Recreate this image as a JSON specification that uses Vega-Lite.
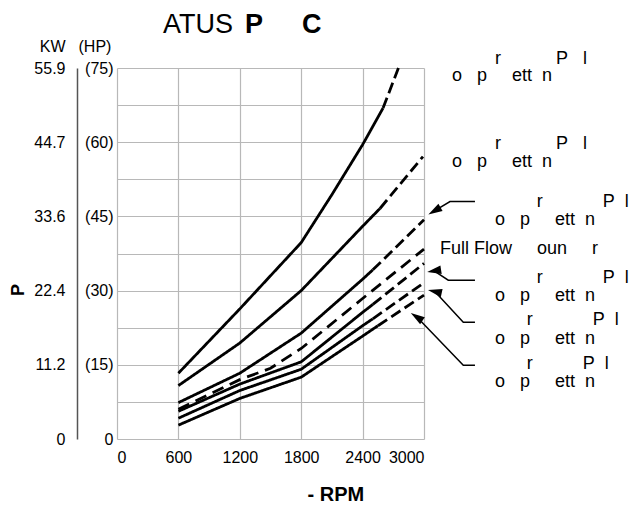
{
  "$schema": "https://vega.github.io/schema/vega-lite/v6.json",
  "width": 307,
  "height": 371,
  "autosize": {"type": "none"},
  "padding": {"left": 117, "top": 68, "right": 206, "bottom": 67},
  "background": "white",
  "config": {
    "font": "Liberation Sans",
    "view": {"stroke": null},
    "axis": {"labelColor": "#000", "titleColor": "#000", "labelFontSize": 16, "gridColor": "#b8b8b8", "gridWidth": 1.2}
  },
  "datasets": {
    "curves": [
      {"curve": "A", "seg": "solid", "rpm": 600, "hp": 13.3},
      {"curve": "A", "seg": "solid", "rpm": 1200, "hp": 26.3},
      {"curve": "A", "seg": "solid", "rpm": 1800, "hp": 39.7},
      {"curve": "A", "seg": "solid", "rpm": 2100, "hp": 49.4},
      {"curve": "A", "seg": "solid", "rpm": 2400, "hp": 59.5},
      {"curve": "A", "seg": "solid", "rpm": 2600, "hp": 66.9},
      {"curve": "A", "seg": "dash", "rpm": 2600, "hp": 66.9},
      {"curve": "A", "seg": "dash", "rpm": 2750, "hp": 75},
      {"curve": "B", "seg": "solid", "rpm": 600, "hp": 10.8},
      {"curve": "B", "seg": "solid", "rpm": 1200, "hp": 19.4},
      {"curve": "B", "seg": "solid", "rpm": 1800, "hp": 30.0},
      {"curve": "B", "seg": "solid", "rpm": 2400, "hp": 43.0},
      {"curve": "B", "seg": "solid", "rpm": 2570, "hp": 46.6},
      {"curve": "B", "seg": "dash", "rpm": 2570, "hp": 46.6},
      {"curve": "B", "seg": "dash", "rpm": 2990, "hp": 57.1},
      {"curve": "C", "seg": "solid", "rpm": 600, "hp": 7.35},
      {"curve": "C", "seg": "solid", "rpm": 1200, "hp": 13.3},
      {"curve": "C", "seg": "solid", "rpm": 1800, "hp": 21.4},
      {"curve": "C", "seg": "solid", "rpm": 2400, "hp": 32.3},
      {"curve": "C", "seg": "solid", "rpm": 2500, "hp": 34.2},
      {"curve": "C", "seg": "dash", "rpm": 2500, "hp": 34.2},
      {"curve": "C", "seg": "dash", "rpm": 3000, "hp": 44.3},
      {"curve": "D", "seg": "thin", "rpm": 600, "hp": 6.0},
      {"curve": "D", "seg": "thin", "rpm": 1200, "hp": 12.0},
      {"curve": "D", "seg": "thin", "rpm": 1500, "hp": 14.3},
      {"curve": "D", "seg": "thin", "rpm": 1800, "hp": 18.3},
      {"curve": "D", "seg": "thin", "rpm": 2400, "hp": 28.4},
      {"curve": "D", "seg": "thin", "rpm": 3000, "hp": 38.4},
      {"curve": "E", "seg": "solid", "rpm": 600, "hp": 5.6},
      {"curve": "E", "seg": "solid", "rpm": 1200, "hp": 11.1},
      {"curve": "E", "seg": "solid", "rpm": 1800, "hp": 15.6},
      {"curve": "E", "seg": "solid", "rpm": 2400, "hp": 25.6},
      {"curve": "E", "seg": "solid", "rpm": 2500, "hp": 27.2},
      {"curve": "E", "seg": "dash", "rpm": 2500, "hp": 27.2},
      {"curve": "E", "seg": "dash", "rpm": 3000, "hp": 35.5},
      {"curve": "F", "seg": "solid", "rpm": 600, "hp": 4.2},
      {"curve": "F", "seg": "solid", "rpm": 1200, "hp": 9.8},
      {"curve": "F", "seg": "solid", "rpm": 1800, "hp": 14.1},
      {"curve": "F", "seg": "solid", "rpm": 2400, "hp": 22.9},
      {"curve": "F", "seg": "solid", "rpm": 2500, "hp": 24.3},
      {"curve": "F", "seg": "dash", "rpm": 2500, "hp": 24.3},
      {"curve": "F", "seg": "dash", "rpm": 3000, "hp": 31.6},
      {"curve": "G", "seg": "solid", "rpm": 600, "hp": 2.8},
      {"curve": "G", "seg": "solid", "rpm": 1200, "hp": 8.2},
      {"curve": "G", "seg": "solid", "rpm": 1800, "hp": 12.5},
      {"curve": "G", "seg": "solid", "rpm": 2400, "hp": 20.8},
      {"curve": "G", "seg": "solid", "rpm": 2550, "hp": 22.9},
      {"curve": "G", "seg": "dash", "rpm": 2550, "hp": 22.9},
      {"curve": "G", "seg": "dash", "rpm": 3000, "hp": 29.1}
    ],
    "arrows": [
      {"arrow": "a1", "rpm": 3498, "hp": 48.0},
      {"arrow": "a1", "rpm": 3254, "hp": 48.0},
      {"arrow": "a1", "rpm": 3102, "hp": 46.1},
      {"arrow": "a2", "rpm": 3498, "hp": 32.1},
      {"arrow": "a2", "rpm": 3237, "hp": 32.1},
      {"arrow": "a2", "rpm": 3099, "hp": 34.0},
      {"arrow": "a3", "rpm": 3498, "hp": 23.6},
      {"arrow": "a3", "rpm": 3384, "hp": 23.6},
      {"arrow": "a3", "rpm": 3106, "hp": 29.8},
      {"arrow": "a4", "rpm": 3498, "hp": 14.9},
      {"arrow": "a4", "rpm": 3384, "hp": 14.9},
      {"arrow": "a4", "rpm": 2928, "hp": 24.7}
    ],
    "heads": [
      {"arrow": "a1", "rpm": 3102, "hp": 46.1},
      {"arrow": "a2", "rpm": 3099, "hp": 34.0},
      {"arrow": "a3", "rpm": 3106, "hp": 29.8},
      {"arrow": "a4", "rpm": 2928, "hp": 24.7}
    ],
    "labels": [
      {"txt": "r\u00a0\u00a0\u00a0\u00a0\u00a0\u00a0\u00a0\u00a0\u00a0\u00a0\u00a0P\u00a0\u00a0\u00a0l", "rpm": 3694, "hp": 75.9},
      {"txt": "o\u00a0\u00a0\u00a0p\u00a0\u00a0\u00a0\u00a0\u00a0ett\u00a0\u00a0n", "rpm": 3274, "hp": 72.3},
      {"txt": "r\u00a0\u00a0\u00a0\u00a0\u00a0\u00a0\u00a0\u00a0\u00a0\u00a0\u00a0P\u00a0\u00a0\u00a0l", "rpm": 3694, "hp": 58.6},
      {"txt": "o\u00a0\u00a0\u00a0p\u00a0\u00a0\u00a0\u00a0\u00a0ett\u00a0\u00a0n", "rpm": 3274, "hp": 54.9},
      {"txt": "r\u00a0\u00a0\u00a0\u00a0\u00a0\u00a0\u00a0\u00a0\u00a0\u00a0\u00a0\u00a0P\u00a0\u00a0l", "rpm": 4101, "hp": 46.9},
      {"txt": "o\u00a0\u00a0\u00a0p\u00a0\u00a0\u00a0\u00a0\u00a0ett\u00a0\u00a0n", "rpm": 3694, "hp": 43.3},
      {"txt": "Full Flow\u00a0\u00a0\u00a0\u00a0\u00a0oun\u00a0\u00a0\u00a0\u00a0\u00a0r", "rpm": 3156, "hp": 37.5},
      {"txt": "r\u00a0\u00a0\u00a0\u00a0\u00a0\u00a0\u00a0\u00a0\u00a0\u00a0\u00a0\u00a0P\u00a0\u00a0l", "rpm": 4101, "hp": 31.5},
      {"txt": "o\u00a0\u00a0\u00a0p\u00a0\u00a0\u00a0\u00a0\u00a0ett\u00a0\u00a0n", "rpm": 3694, "hp": 27.9},
      {"txt": "r\u00a0\u00a0\u00a0\u00a0\u00a0\u00a0\u00a0\u00a0\u00a0\u00a0\u00a0\u00a0P\u00a0\u00a0l", "rpm": 4004, "hp": 23.0},
      {"txt": "o\u00a0\u00a0\u00a0p\u00a0\u00a0\u00a0\u00a0\u00a0ett\u00a0\u00a0n", "rpm": 3694, "hp": 19.3},
      {"txt": "r\u00a0\u00a0\u00a0\u00a0\u00a0\u00a0\u00a0\u00a0\u00a0\u00a0P\u00a0\u00a0l", "rpm": 4004, "hp": 14.1},
      {"txt": "o\u00a0\u00a0\u00a0p\u00a0\u00a0\u00a0\u00a0\u00a0ett\u00a0\u00a0n", "rpm": 3694, "hp": 10.5}
    ],
    "titleNormal": [
      {"txt": "ATUS", "rpm": 449, "hp": 82.0}
    ],
    "titleBold": [
      {"txt": "P", "rpm": 1251, "hp": 82.0},
      {"txt": "C", "rpm": 1808, "hp": 82.0}
    ],
    "ytitle": [
      {"txt": "P", "rpm": -960, "hp": 30.1}
    ]
  },
  "layer": [
    {
      "data": {"name": "curves"},
      "mark": {"type": "line", "color": "#000", "strokeCap": "butt"},
      "encoding": {
        "x": {
          "field": "rpm", "type": "quantitative",
          "scale": {"domain": [0, 3000], "nice": false, "zero": false},
          "axis": {
            "orient": "bottom",
            "values": [0, 600, 1200, 1800, 2400, 3000],
            "format": "d",
            "grid": true, "ticks": false, "tickSize": 0, "domain": false,
            "labelPadding": 10, "labelFontSize": 16, "labelOverlap": false, "labelBound": false,
            "title": "- RPM", "titleFontSize": 20, "titleFontWeight": "bold",
            "titleAlign": "left", "titleBaseline": "alphabetic", "titleX": 190, "titleY": 61
          }
        },
        "y": {
          "field": "hp", "type": "quantitative",
          "scale": {"domain": [0, 75], "nice": false, "zero": false},
          "axis": {
            "orient": "left",
            "values": [0, 7.5, 15, 22.5, 30, 37.5, 45, 52.5, 60, 67.5, 75],
            "labelExpr": "datum.value == 0 ? '0\u00a0' : (datum.value % 15 == 0 ? '(' + datum.value + ')' : '')",
            "grid": true, "ticks": false, "tickSize": 0, "domain": false,
            "labelPadding": 4, "labelFontSize": 16, "labelOverlap": false, "labelBound": false,
            "title": "(HP)", "titleAngle": 0, "titleFontSize": 16, "titleFontWeight": "normal",
            "titleAlign": "left", "titleBaseline": "middle", "titleX": -39, "titleY": -22
          }
        },
        "detail": [{"field": "curve"}, {"field": "seg"}],
        "strokeDash": {
          "field": "seg", "type": "nominal",
          "scale": {"domain": ["solid", "dash", "thin"], "range": [[1, 0], [11, 5], [12, 7]]},
          "legend": null
        },
        "strokeWidth": {
          "field": "seg", "type": "nominal",
          "scale": {"domain": ["solid", "dash", "thin"], "range": [2.8, 2.8, 1.5]},
          "legend": null
        }
      }
    },
    {
      "data": {"name": "arrows"},
      "mark": {"type": "line", "color": "#000", "strokeWidth": 1.5},
      "encoding": {
        "x": {"field": "rpm", "type": "quantitative", "scale": {"domain": [0, 3000], "nice": false, "zero": false}, "axis": null},
        "y": {
          "field": "hp", "type": "quantitative",
          "scale": {"domain": [0, 75], "nice": false, "zero": false},
          "axis": {
            "orient": "left", "offset": 40,
            "values": [0, 15, 30, 45, 60, 75],
            "labelExpr": "datum.value == 0 ? '0' : format(datum.value * 0.7457, '.1f')",
            "grid": false, "ticks": false, "tickSize": 0,
            "domain": true, "domainColor": "#555", "domainWidth": 1.5,
            "labelPadding": 12, "labelFontSize": 16, "labelOverlap": false, "labelBound": false,
            "title": "KW", "titleAngle": 0, "titleFontSize": 16, "titleFontWeight": "normal",
            "titleAlign": "right", "titleBaseline": "middle", "titleX": -12, "titleY": -22
          }
        },
        "detail": {"field": "arrow"}
      }
    },
    {
      "data": {"name": "heads"},
      "mark": {"type": "point", "shape": "M0,-1L0.6,1L-0.6,1Z", "filled": true, "color": "#000", "opacity": 1, "size": 196},
      "encoding": {
        "x": {"field": "rpm", "type": "quantitative", "scale": {"domain": [0, 3000], "nice": false, "zero": false}, "axis": null},
        "y": {"field": "hp", "type": "quantitative", "scale": {"domain": [0, 75], "nice": false, "zero": false}, "axis": null},
        "angle": {
          "field": "arrow", "type": "nominal",
          "scale": {"domain": ["a1", "a2", "a3", "a4"], "range": [240, 303.6, 316.4, 315.9]},
          "legend": null
        }
      }
    },
    {
      "data": {"name": "labels"},
      "mark": {"type": "text", "align": "left", "baseline": "alphabetic", "fontSize": 18, "color": "#000"},
      "encoding": {
        "x": {"field": "rpm", "type": "quantitative", "scale": {"domain": [0, 3000], "nice": false, "zero": false}, "axis": null},
        "y": {"field": "hp", "type": "quantitative", "scale": {"domain": [0, 75], "nice": false, "zero": false}, "axis": null},
        "text": {"field": "txt"}
      }
    },
    {
      "data": {"name": "titleNormal"},
      "mark": {"type": "text", "align": "left", "baseline": "alphabetic", "fontSize": 27, "color": "#000"},
      "encoding": {
        "x": {"field": "rpm", "type": "quantitative", "scale": {"domain": [0, 3000], "nice": false, "zero": false}, "axis": null},
        "y": {"field": "hp", "type": "quantitative", "scale": {"domain": [0, 75], "nice": false, "zero": false}, "axis": null},
        "text": {"field": "txt"}
      }
    },
    {
      "data": {"name": "titleBold"},
      "mark": {"type": "text", "align": "left", "baseline": "alphabetic", "fontSize": 27, "fontWeight": "bold", "color": "#000"},
      "encoding": {
        "x": {"field": "rpm", "type": "quantitative", "scale": {"domain": [0, 3000], "nice": false, "zero": false}, "axis": null},
        "y": {"field": "hp", "type": "quantitative", "scale": {"domain": [0, 75], "nice": false, "zero": false}, "axis": null},
        "text": {"field": "txt"}
      }
    },
    {
      "data": {"name": "ytitle"},
      "mark": {"type": "text", "align": "center", "baseline": "middle", "fontSize": 18, "fontWeight": "bold", "angle": 270, "color": "#000"},
      "encoding": {
        "x": {"field": "rpm", "type": "quantitative", "scale": {"domain": [0, 3000], "nice": false, "zero": false}, "axis": null},
        "y": {"field": "hp", "type": "quantitative", "scale": {"domain": [0, 75], "nice": false, "zero": false}, "axis": null},
        "text": {"field": "txt"}
      }
    }
  ],
  "resolve": {"axis": {"x": "independent", "y": "independent"}}
}
